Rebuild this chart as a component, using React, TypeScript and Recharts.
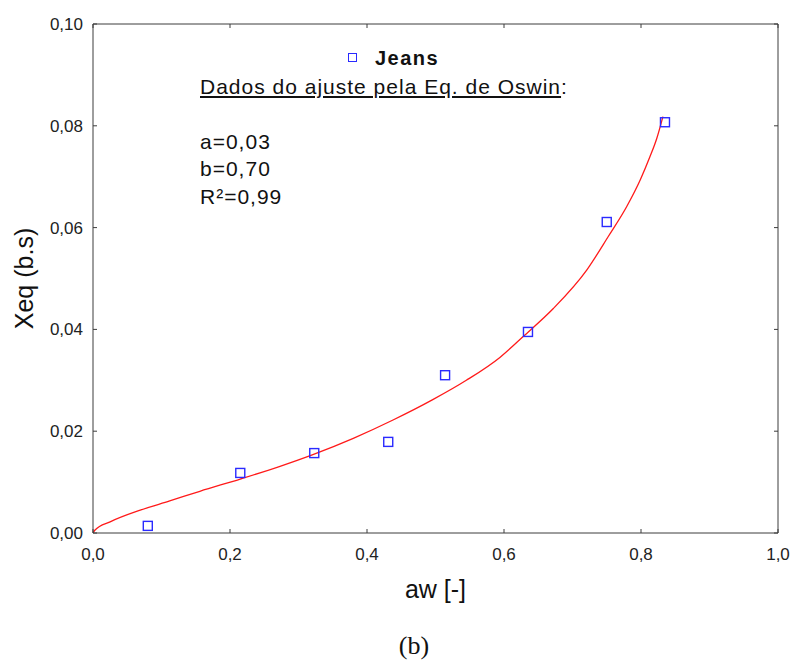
import { ComposedChart, Line, Scatter, XAxis, YAxis, Legend, Label } from 'recharts'

// measured points (aw, Xeq) for jeans
const awObs = [0.08, 0.215, 0.323, 0.431, 0.514, 0.635, 0.75, 0.835]
const xeqObs = [0.0014, 0.0118, 0.0157, 0.0179, 0.031, 0.0395, 0.0611, 0.0807]

// fitted Oswin curve
const awFit = [0, 0.003, 0.025, 0.069, 0.112, 0.156, 0.215, 0.273, 0.321, 0.38, 0.438, 0.496, 0.545, 0.594, 0.628, 0.672, 0.721, 0.752, 0.779, 0.799, 0.813, 0.823, 0.832]
const xeqFit = [0, 0.0006, 0.0022, 0.0045, 0.0063, 0.0082, 0.0106, 0.0131, 0.0154, 0.0186, 0.0222, 0.0262, 0.03, 0.0345, 0.0386, 0.0441, 0.0517, 0.0582, 0.0641, 0.0694, 0.0739, 0.0775, 0.0818]

const xTicks = [0, 0.2, 0.4, 0.6, 0.8, 1.0]
const yTicks = [0, 0.02, 0.04, 0.06, 0.08, 0.1]

const fitLines = ['a=0,03', 'b=0,70', 'R²=0,99']

const obsData = awObs.map((x, i) => ({ x, y: xeqObs[i] }))
const fitData = awFit.map((x, i) => ({ x, y: xeqFit[i] }))

const FONT = '"Liberation Sans", Arial, sans-serif'
const AXIS = '#3c3c3c'
const BLUE = '#2a2aff'

const Square = (props: any) => {
  const { cx, cy } = props
  if (cx == null || cy == null) return null
  return <rect x={cx - 4.5} y={cy - 4.5} width={9} height={9} fill="none" stroke={BLUE} strokeWidth={1.4} />
}

const Nothing = () => <g />

const renderLegend = () => (
  <div style={{ fontFamily: FONT, fontSize: 21, letterSpacing: 1, lineHeight: '27.5px', color: '#111' }}>
    <div style={{ position: 'relative', paddingLeft: 175, fontWeight: 'bold', fontSize: 20, letterSpacing: 1.5 }}>
      <span style={{ position: 'absolute', left: 148, top: 8, width: 7, height: 7, border: `1px solid ${BLUE}` }} />
      Jeans
    </div>
    <div>
      <span style={{ textDecoration: 'underline' }}>Dados do ajuste pela Eq. de Oswin</span>:
    </div>
    <div>&nbsp;</div>
    {fitLines.map((t) => (
      <div key={t}>{t}</div>
    ))}
  </div>
)

const yLabel = (props: any) => {
  const vb = props.viewBox
  const cx = vb.x + 24
  const cy = vb.y + vb.height / 2
  return (
    <text x={cx} y={cy} transform={`rotate(-90 ${cx} ${cy})`} textAnchor="middle" dominantBaseline="central"
      fontFamily={FONT} fontSize={25} fill="#111">
      Xeq (b.s)
    </text>
  )
}

export default function App() {
  return (
    <div style={{ position: 'absolute', left: 0, top: 0, width: 794, height: 666, background: '#fff' }}>
      <ComposedChart width={794} height={666} margin={{ top: 23, right: 15, bottom: 0, left: 0 }}>
        <XAxis xAxisId="bottom" type="number" dataKey="x" domain={[0, 1]} ticks={xTicks} height={133}
          stroke={AXIS} tickSize={-4} tickMargin={19} allowDataOverflow
          tick={{ fontFamily: FONT, fontSize: 17, fill: '#222' }}
          tickFormatter={(v: number) => v.toFixed(1).replace('.', ',')}>
          <Label value="aw [-]" position="insideTop" offset={47} fontFamily={FONT} fontSize={25} fill="#111" />
        </XAxis>
        <XAxis xAxisId="top" orientation="top" type="number" dataKey="x" domain={[0, 1]} ticks={xTicks} height={1}
          stroke={AXIS} tickSize={-4} tick={Nothing} allowDataOverflow />
        <YAxis yAxisId="left" type="number" dataKey="y" domain={[0, 0.1]} ticks={yTicks} width={93}
          stroke={AXIS} tickSize={-4} tickMargin={14} allowDataOverflow
          tick={{ fontFamily: FONT, fontSize: 17, fill: '#222' }}
          tickFormatter={(v: number) => v.toFixed(2).replace('.', ',')}>
          <Label content={yLabel} />
        </YAxis>
        <YAxis yAxisId="right" orientation="right" type="number" dataKey="y" domain={[0, 0.1]} ticks={yTicks} width={1}
          stroke={AXIS} tickSize={-4} tick={Nothing} allowDataOverflow />
        <Legend layout="horizontal" verticalAlign="middle" align="center" content={renderLegend}
          wrapperStyle={{ position: 'absolute', left: 200, top: 45, width: 420, height: 170 }} />
        <Line xAxisId="bottom" yAxisId="left" data={fitData} dataKey="y" type="monotone" stroke="#ff1a1a"
          strokeWidth={1.3} dot={false} activeDot={false} isAnimationActive={false} legendType="none" />
        <Scatter xAxisId="bottom" yAxisId="left" data={obsData} dataKey="y" shape={Square} isAnimationActive={false} />
        {/* invisible series so the mirrored frame axes get drawn */}
        <Scatter xAxisId="top" yAxisId="right" data={obsData} dataKey="y" shape={Nothing} legendType="none" isAnimationActive={false} />
      </ComposedChart>
      <div style={{ position: 'absolute', left: 414, top: 633, transform: 'translateX(-50%)', fontFamily: '"Liberation Serif", "Times New Roman", serif', fontSize: 26, lineHeight: '26px', color: '#111' }}>
        (b)
      </div>
    </div>
  )
}
